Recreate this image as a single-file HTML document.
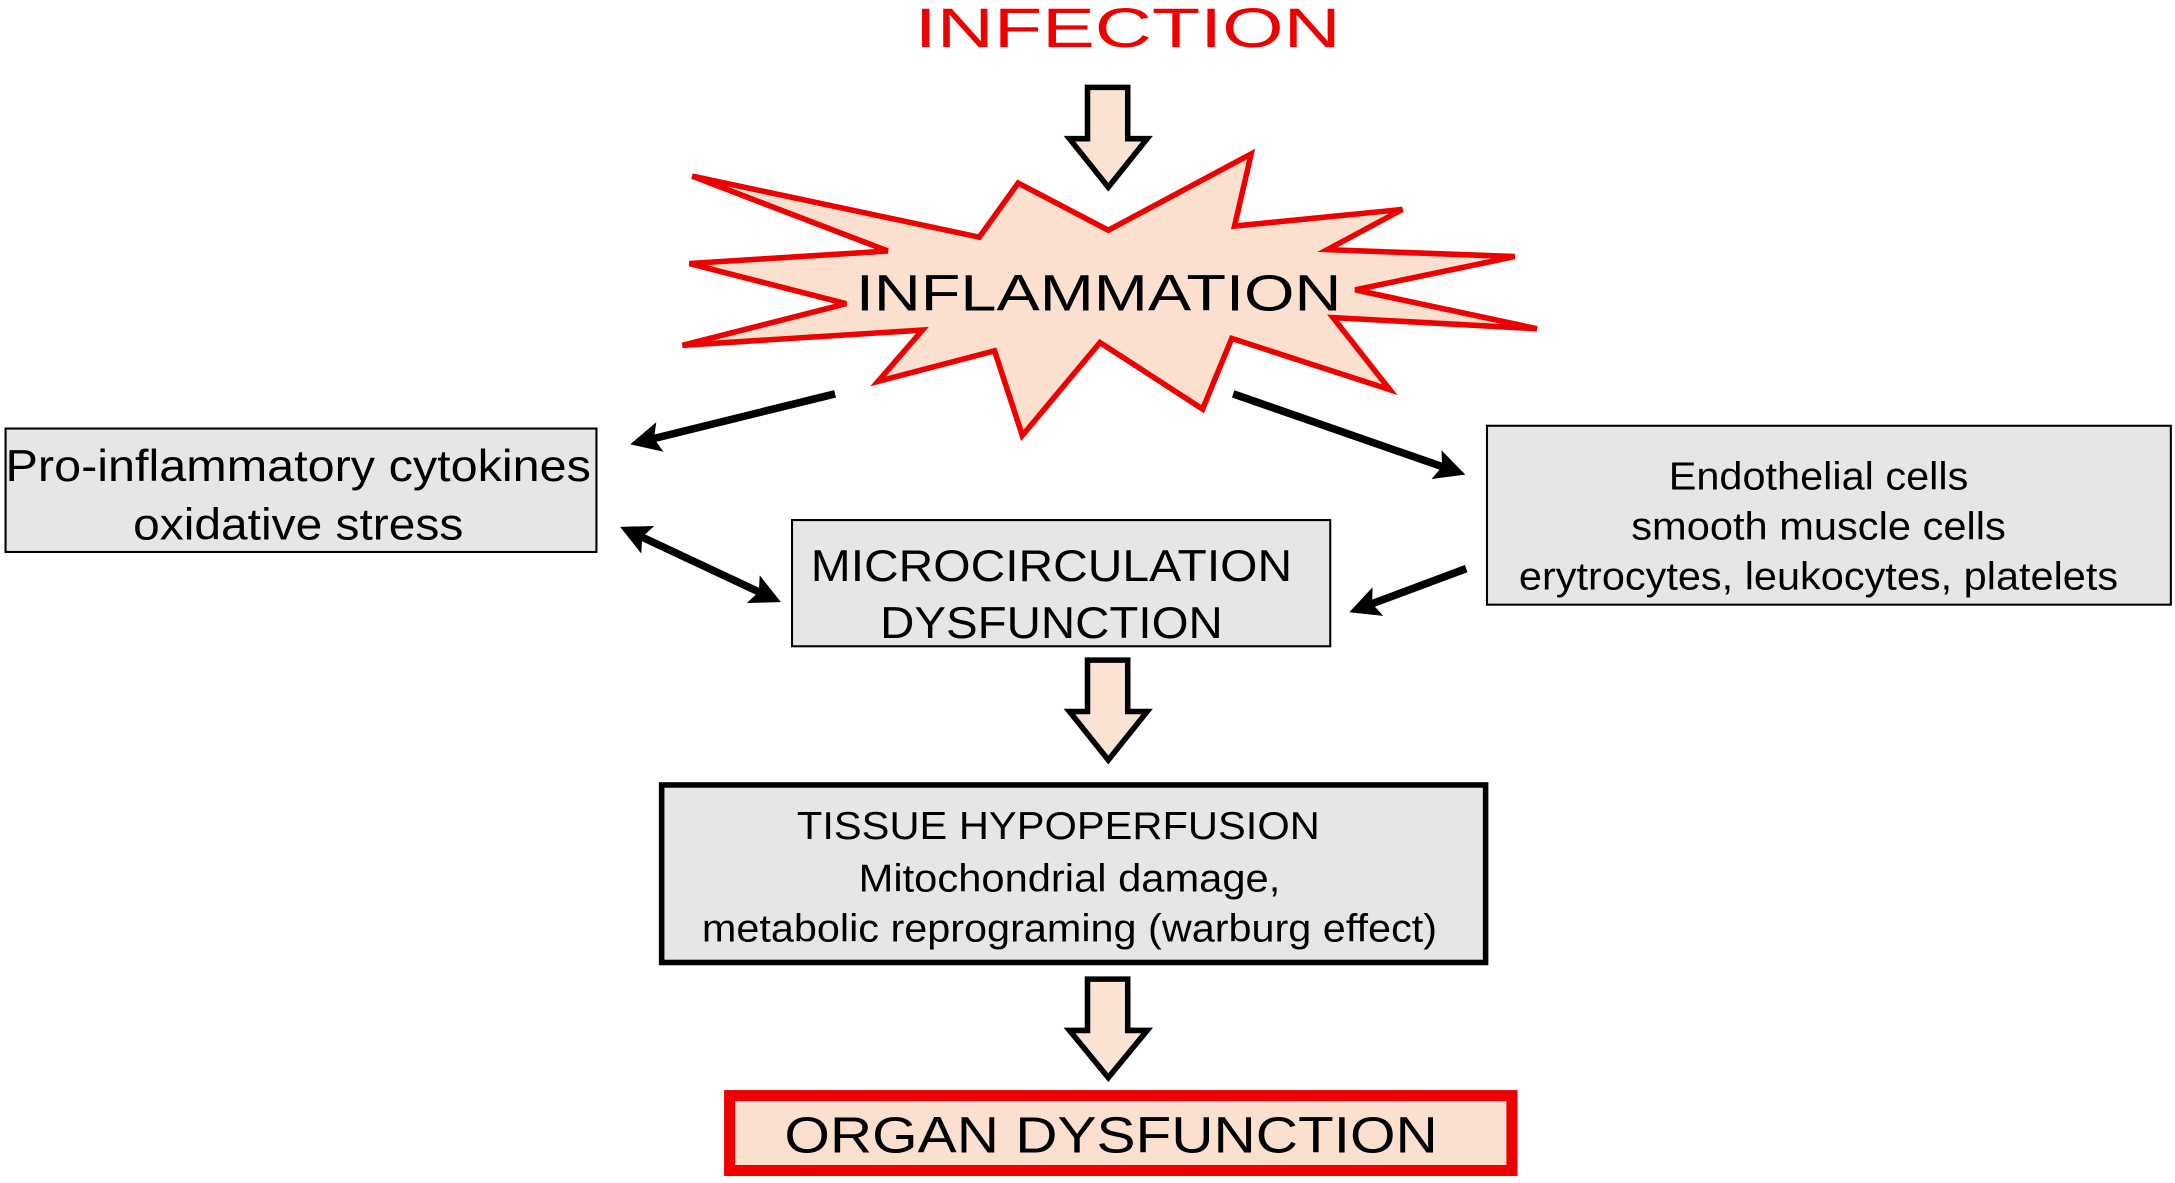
<!DOCTYPE html>
<html><head><meta charset="utf-8"><style>html,body{margin:0;padding:0;background:#fff}svg{display:block}</style></head>
<body>
<svg width="2175" height="1183" viewBox="0 0 1568 853" preserveAspectRatio="none" xmlns="http://www.w3.org/2000/svg" font-family="Liberation Sans, Arial, sans-serif">
<defs>
<marker id="ah" markerWidth="4" markerHeight="4" refX="2.2" refY="2" orient="auto" markerUnits="strokeWidth">
<path d="M0,0 L4,2 L0,4 L0.8,2 Z" fill="#000"/></marker>
<marker id="ahs" markerWidth="4" markerHeight="4" refX="1.8" refY="2" orient="auto-start-reverse" markerUnits="strokeWidth">
<path d="M0,0 L4,2 L0,4 L0.8,2 Z" fill="#000"/></marker>
</defs>
<text x="813" y="34" text-anchor="middle" fill="#ee0000" font-size="40" textLength="307" lengthAdjust="spacingAndGlyphs">INFECTION</text>
<!-- hollow arrows -->
<path d="M784,63 H813 V100 H827 L799,135 L771,100 H784 Z" fill="#fbe3d3" stroke="#000" stroke-width="4" stroke-linejoin="miter"/>
<path d="M784,476 H813 V513 H827 L799,548 L771,513 H784 Z" fill="#fbe3d3" stroke="#000" stroke-width="4"/>
<path d="M784,706 H813 V743 H827 L799,777 L771,743 H784 Z" fill="#fbe3d3" stroke="#000" stroke-width="4"/>
<!-- starburst -->
<polygon points="499,127 706,171 734,132 799,166 902,111 890,163 1011,151 957,180 1092,185 977,209 1108,237 961,229 1002,281 888,244 867,295 793,247 737,314 717,253 633,275 665,238 492,249 610,219 497,190 640,181" fill="#fbe0cf" stroke="#ee0000" stroke-width="4" stroke-linejoin="miter"/>
<text x="792" y="224" text-anchor="middle" font-size="37" textLength="350" lengthAdjust="spacingAndGlyphs">INFLAMMATION</text>
<!-- black arrows -->
<g stroke="#000" stroke-width="5.5" fill="none">
<line x1="602" y1="284" x2="464" y2="318" marker-end="url(#ah)"/>
<line x1="889" y1="284" x2="1047" y2="339" marker-end="url(#ah)"/>
<line x1="1057" y1="410" x2="982" y2="438" marker-end="url(#ah)"/>
<line x1="458" y1="385" x2="554" y2="430" marker-end="url(#ah)" marker-start="url(#ahs)"/>
</g>
<!-- boxes -->
<rect x="4" y="309" width="426" height="89" fill="#e6e6e6" stroke="#000" stroke-width="1.5"/>
<text x="215" y="347" text-anchor="middle" font-size="32" textLength="422" lengthAdjust="spacingAndGlyphs">Pro-inflammatory cytokines</text>
<text x="215" y="389" text-anchor="middle" font-size="32" textLength="238" lengthAdjust="spacingAndGlyphs">oxidative stress</text>
<rect x="1072" y="307" width="493" height="129" fill="#e6e6e6" stroke="#000" stroke-width="1.5"/>
<g font-size="28" text-anchor="middle">
<text x="1311" y="353" textLength="216" lengthAdjust="spacingAndGlyphs">Endothelial cells</text>
<text x="1311" y="389" textLength="270" lengthAdjust="spacingAndGlyphs">smooth muscle cells</text>
<text x="1311" y="425" textLength="432" lengthAdjust="spacingAndGlyphs">erytrocytes, leukocytes, platelets</text>
</g>
<rect x="571" y="375" width="388" height="91" fill="#e6e6e6" stroke="#000" stroke-width="1.5"/>
<text x="758" y="419" text-anchor="middle" font-size="32" textLength="347" lengthAdjust="spacingAndGlyphs">MICROCIRCULATION</text>
<text x="758" y="460" text-anchor="middle" font-size="32" textLength="247" lengthAdjust="spacingAndGlyphs">DYSFUNCTION</text>
<rect x="477" y="566" width="594" height="128" fill="#e6e6e6" stroke="#000" stroke-width="4"/>
<g font-size="28" text-anchor="middle">
<text x="763" y="605" textLength="377" lengthAdjust="spacingAndGlyphs">TISSUE HYPOPERFUSION</text>
<text x="771" y="643" textLength="304" lengthAdjust="spacingAndGlyphs">Mitochondrial damage,</text>
<text x="771" y="679" textLength="530" lengthAdjust="spacingAndGlyphs">metabolic reprograming (warburg effect)</text>
</g>
<rect x="526" y="790" width="564" height="54" fill="#fbe0cf" stroke="#ee0000" stroke-width="8"/>
<text x="801" y="831" text-anchor="middle" font-size="37" textLength="471" lengthAdjust="spacingAndGlyphs">ORGAN DYSFUNCTION</text>
</svg>
</body></html>
